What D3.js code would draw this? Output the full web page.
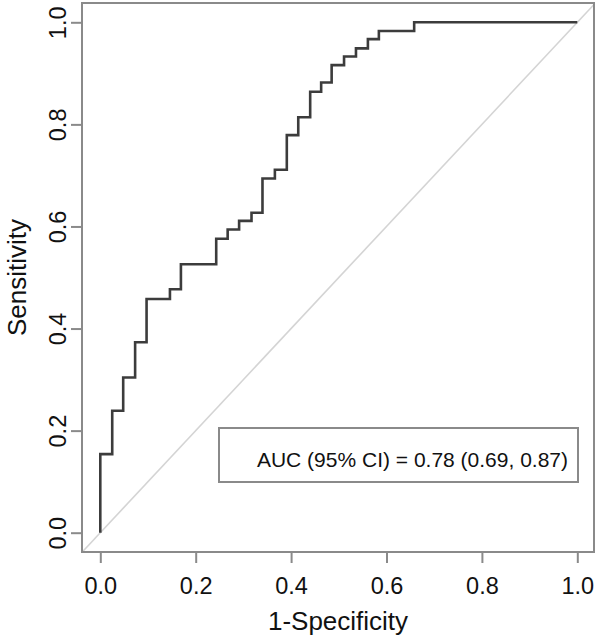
<!DOCTYPE html>
<html>
<head>
<meta charset="utf-8">
<script src="https://cdn.jsdelivr.net/npm/d3@7"></script>
<style>
  html, body { margin: 0; padding: 0; background: #fff; }
  svg { display: block; font-family: "Liberation Sans", Arial, sans-serif; }
</style>
</head>
<body>
<svg id="chart" width="600" height="635"></svg>
<script>
// ROC curve corner points (1-Specificity, Sensitivity)
const fpr = [0, 0, 0.025, 0.048, 0.073, 0.097, 0.146, 0.169, 0.243, 0.267, 0.291, 0.317,
             0.340, 0.366, 0.391, 0.415, 0.440, 0.463, 0.485, 0.511, 0.536, 0.561, 0.584, 0.658, 1.0];
const tpr = [0, 0.154, 0.239, 0.304, 0.373, 0.458, 0.477, 0.526, 0.576, 0.594, 0.611, 0.627,
             0.694, 0.711, 0.779, 0.814, 0.864, 0.882, 0.916, 0.933, 0.949, 0.967, 0.983, 1.0, 1.0];
const xTicks = [0, 0.2, 0.4, 0.6, 0.8, 1.0];
const yTicks = [0, 0.2, 0.4, 0.6, 0.8, 1.0];
const xTitle = "1-Specificity";
const yTitle = "Sensitivity";
const legendText = "AUC (95% CI) = 0.78 (0.69, 0.87)";

const svg = d3.select("#chart");
const box = { left: 82, right: 594, top: 3, bottom: 552 };

const x = d3.scaleLinear().domain([0, 1]).range([100.3, 577.3]);
const y = d3.scaleLinear().domain([0, 1]).range([532.7, 22.3]);

const axisColor = "#8a8a8a";
const textColor = "#111";

// Diagonal reference line across the plot region
const xd0 = x.invert(box.left), xd1 = x.invert(box.right);
const yd0 = y.invert(box.bottom), yd1 = y.invert(box.top);
const d0 = Math.max(xd0, yd0), d1 = Math.min(xd1, yd1);
svg.append("line")
  .attr("x1", x(d0)).attr("y1", y(d0))
  .attr("x2", x(d1)).attr("y2", y(d1))
  .attr("stroke", "#d4d4d4").attr("stroke-width", 1.6);

// ROC curve
const pts = fpr.map((f, i) => [f, tpr[i]]);
const line = d3.line().x(d => x(d[0])).y(d => y(d[1])).curve(d3.curveStepAfter);
svg.append("path")
  .attr("d", line(pts))
  .attr("fill", "none")
  .attr("stroke", "#3c3c3c")
  .attr("stroke-width", 2.6)
  .attr("stroke-linejoin", "miter");

// Plot frame
svg.append("rect")
  .attr("x", box.left).attr("y", box.top)
  .attr("width", box.right - box.left).attr("height", box.bottom - box.top)
  .attr("fill", "none").attr("stroke", axisColor).attr("stroke-width", 2);

// X axis
const xAxis = d3.axisBottom(x).tickValues(xTicks).tickSize(11).tickPadding(14)
  .tickFormat(d3.format(".1f"));
const gx = svg.append("g").attr("transform", `translate(0,${box.bottom})`).call(xAxis);
gx.select(".domain").remove();
gx.selectAll(".tick line").attr("stroke", axisColor).attr("stroke-width", 2);
gx.selectAll(".tick text").attr("font-size", 23.5).attr("fill", textColor)
  .attr("font-family", "Liberation Sans, Arial, sans-serif")
  .attr("dy", null).attr("y", 42);

// Y axis
const yAxis = d3.axisLeft(y).tickValues(yTicks).tickSize(11)
  .tickFormat(d3.format(".1f"));
const gy = svg.append("g").attr("transform", `translate(${box.left},0)`).call(yAxis);
gy.select(".domain").remove();
gy.selectAll(".tick line").attr("stroke", axisColor).attr("stroke-width", 2);
gy.selectAll(".tick text")
  .attr("font-size", 23.5).attr("fill", textColor)
  .attr("font-family", "Liberation Sans, Arial, sans-serif")
  .attr("x", null).attr("dy", null)
  .attr("text-anchor", "middle")
  .attr("transform", "translate(-16,0) rotate(-90)");

// Axis titles
svg.append("text")
  .attr("x", (box.left + box.right) / 2).attr("y", 630)
  .attr("text-anchor", "middle").attr("font-size", 26).attr("fill", textColor)
  .text(xTitle);
svg.append("text")
  .attr("transform", `translate(26,${(box.top + box.bottom) / 2}) rotate(-90)`)
  .attr("text-anchor", "middle").attr("font-size", 26).attr("fill", textColor)
  .text(yTitle);

// Legend box
svg.append("rect")
  .attr("x", 219).attr("y", 428).attr("width", 359).attr("height", 54)
  .attr("fill", "#fff").attr("stroke", axisColor).attr("stroke-width", 2);
svg.append("text")
  .attr("x", 568).attr("y", 466.5)
  .attr("text-anchor", "end").attr("font-size", 21).attr("fill", textColor)
  .text(legendText);
</script>
</body>
</html>
